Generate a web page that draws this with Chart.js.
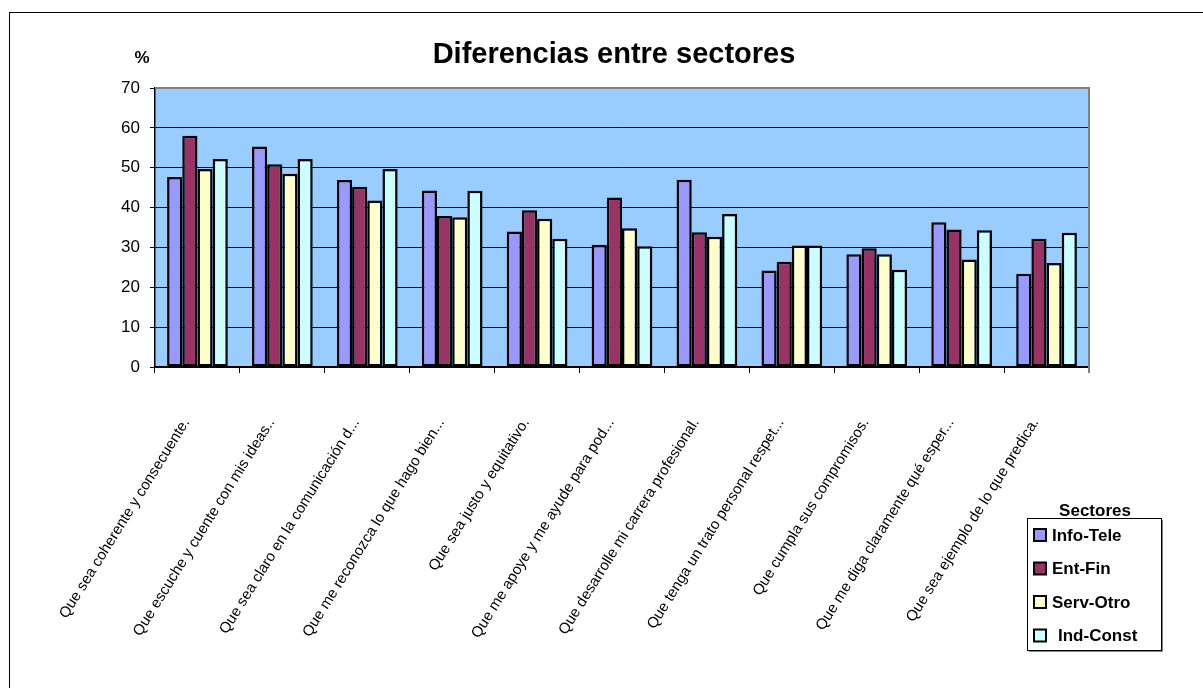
<!DOCTYPE html>
<html>
<head>
<meta charset="utf-8">
<script src="https://cdn.jsdelivr.net/npm/chart.js@4.4.0/dist/chart.umd.min.js"></script>
<style>
  html, body { margin: 0; padding: 0; background: #fff; }
  #wrap { width: 1203px; height: 688px; position: relative; }
</style>
</head>
<body>
<div id="wrap"><canvas id="chart" width="1203" height="688"></canvas></div>
<script>
// Data
const categories = [
    'Que sea coherente y consecuente.',
    'Que escuche y cuente con mis ideas..',
    'Que sea claro en la comunicación d...',
    'Que me reconozca lo que hago bien...',
    'Que sea justo y equitativo.',
    'Que me apoye y me ayude para pod...',
    'Que desarrolle mi carrera profesional.',
    'Que tenga un trato personal respet...',
    'Que cumpla sus compromisos.',
    'Que me diga claramente qué esper...',
    'Que sea ejemplo de lo que predica.'
];
const infoTele = [47.7, 55.3, 46.9, 44.3, 34.0, 30.7, 47.0, 24.2, 28.3, 36.3, 23.4];
const entFin   = [58.0, 50.9, 45.2, 37.9, 39.3, 42.5, 33.8, 26.4, 29.8, 34.5, 32.2];
const servOtro = [49.7, 48.5, 41.8, 37.6, 37.2, 34.8, 32.7, 30.5, 28.3, 27.0, 26.1];
const indConst = [52.2, 52.2, 49.7, 44.2, 32.2, 30.3, 38.4, 30.5, 24.4, 34.3, 33.7];
const seriesNames = ['Info-Tele', 'Ent-Fin', 'Serv-Otro', 'Ind-Const'];
const seriesColors = ['#9999ff', '#993366', '#ffffcc', '#ccffff'];
const yTicks = [0, 10, 20, 30, 40, 50, 60, 70];

const chartTitle = 'Diferencias entre sectores';
const unitLabel = '%';
const legendTitle = 'Sectores';

const FONT = 'Arial, "Liberation Sans", sans-serif';

// Plot background, borders, title and legend
const decorPlugin = {
    id: 'decor',
    beforeDraw(chart) {
        const { ctx, chartArea: a } = chart;
        ctx.save();
        ctx.fillStyle = '#fff';
        ctx.fillRect(0, 0, chart.width, chart.height);
        // outer frame
        ctx.strokeStyle = '#000';
        ctx.lineWidth = 1;
        ctx.strokeRect(9.5, 12.5, 1300, 800);
        // plot area
        ctx.fillStyle = '#99ccff';
        ctx.fillRect(a.left, a.top, a.right - a.left, a.bottom - a.top);
        ctx.restore();
    },
    afterDraw(chart) {
        const { ctx, chartArea: a } = chart;
        ctx.save();
        // gray top/right plot border
        ctx.strokeStyle = '#808080';
        ctx.lineWidth = 2;
        ctx.beginPath();
        ctx.moveTo(a.left, a.top);
        ctx.lineTo(a.right, a.top);
        ctx.lineTo(a.right, a.bottom + 6);
        ctx.stroke();

        // title
        ctx.fillStyle = '#000';
        ctx.font = 'bold 29px ' + FONT;
        ctx.textAlign = 'center';
        ctx.textBaseline = 'alphabetic';
        ctx.fillText(chartTitle, 614, 63);
        ctx.font = 'bold 17px ' + FONT;
        ctx.fillText(unitLabel, 142, 63);

        // legend
        const lx = 1027, ly = 518, lw = 134, lh = 132;
        ctx.fillText(legendTitle, 1095, 516);
        ctx.fillStyle = '#fff';
        ctx.fillRect(lx, ly, lw, lh);
        ctx.strokeStyle = '#000';
        ctx.lineWidth = 1;
        ctx.strokeRect(lx + 0.5, ly + 0.5, lw, lh);
        ctx.strokeStyle = '#808080';
        ctx.beginPath();
        ctx.moveTo(lx + lw + 1.5, ly + 2);
        ctx.lineTo(lx + lw + 1.5, ly + lh + 1.5);
        ctx.lineTo(lx + 2, ly + lh + 1.5);
        ctx.stroke();
        ctx.textAlign = 'left';
        ctx.textBaseline = 'middle';
        chart.data.datasets.forEach((ds, i) => {
            const cy = 535 + i * 33.5;
            ctx.fillStyle = ds.backgroundColor;
            ctx.fillRect(1034, cy - 6, 12, 12);
            ctx.strokeStyle = '#000';
            ctx.lineWidth = 2;
            ctx.strokeRect(1034, cy - 6, 12, 12);
            ctx.fillStyle = '#000';
            ctx.font = 'bold 17px ' + FONT;
            ctx.fillText(ds.label, i === 3 ? 1058 : 1052, cy + 1);
        });
        ctx.restore();
    }
};

const datasets = [infoTele, entFin, servOtro, indConst].map((vals, i) => ({
    label: seriesNames[i],
    data: vals,
    backgroundColor: seriesColors[i],
    borderColor: '#000',
    borderWidth: 2.5,
    borderSkipped: false,
    barPercentage: 1,
    categoryPercentage: 0.715
}));

new Chart(document.getElementById('chart'), {
    type: 'bar',
    data: { labels: categories, datasets },
    options: {
        responsive: false,
        animation: false,
        layout: { padding: { top: 88, right: 114, left: 0, bottom: 0 } },
        plugins: {
            legend: { display: false },
            tooltip: { enabled: false }
        },
        scales: {
            x: {
                afterFit(scale) { scale.height = 321; },
                grid: {
                    drawOnChartArea: false,
                    color: '#000',
                    tickLength: 6,
                    offset: true
                },
                border: { color: '#000', width: 1.5 },
                ticks: {
                    minRotation: 58,
                    maxRotation: 58,
                    autoSkip: false,
                    padding: 42,
                    labelOffset: -11,
                    color: '#000',
                    font: { family: FONT, size: 15 }
                }
            },
            y: {
                min: 0,
                max: 70,
                afterFit(scale) { scale.width = 155; },
                afterBuildTicks(scale) { scale.ticks = yTicks.map(v => ({ value: v })); },
                grid: { color: '#000', lineWidth: 1, tickLength: 5 },
                border: { color: '#000', width: 1.5 },
                ticks: {
                    padding: 10,
                    color: '#000',
                    font: { family: FONT, size: 17 }
                }
            }
        }
    },
    plugins: [decorPlugin]
});
</script>
</body>
</html>
